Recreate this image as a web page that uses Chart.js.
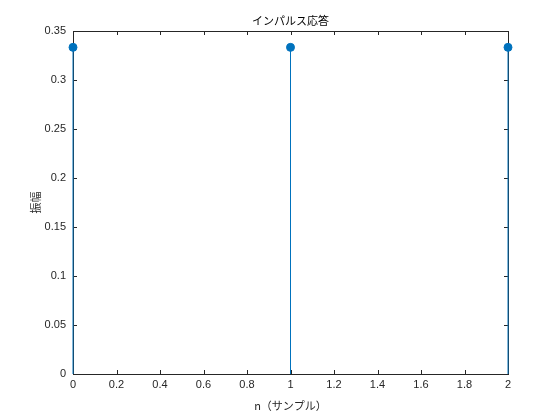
<!DOCTYPE html>
<html>
<head>
<meta charset="utf-8">
<script src="https://cdn.jsdelivr.net/npm/chart.js@4/dist/chart.umd.min.js"></script>
<style>
  html, body { margin: 0; padding: 0; background: #fff; }
  #wrap { width: 560px; height: 420px; }
</style>
</head>
<body>
<div id="wrap"><canvas id="stemChart"></canvas></div>
<script>
// impulse response samples
const samples = [0, 1, 2];
const amplitude = [0.3333, 0.3333, 0.3333];
const xTicks = [0, 0.2, 0.4, 0.6, 0.8, 1, 1.2, 1.4, 1.6, 1.8, 2];
const yTicks = [0, 0.05, 0.1, 0.15, 0.2, 0.25, 0.3, 0.35];

const titleText = 'インパルス応答';
const xLabel = 'n（サンプル）';
const yLabel = '振幅';

const blue = '#0072BD';
const axisColor = '#262626';
const jpFont = '"Noto Sans CJK JP", "Noto Sans", sans-serif';

// one line dataset per stem, from 0 up to the value
const stemSets = samples.map((n, i) => ({
    type: 'line',
    data: [{ x: n, y: 0 }, { x: n, y: amplitude[i] }],
    borderColor: blue,
    borderWidth: 1,
    pointRadius: 0,
    fill: false,
    clip: false
}));

const markerSet = {
    type: 'scatter',
    data: samples.map((n, i) => ({ x: n, y: amplitude[i] })),
    backgroundColor: blue,
    borderColor: blue,
    pointRadius: 4,
    pointHoverRadius: 4,
    clip: false
};

const fmt = v => String(+Number(v).toFixed(2));

const boxPlugin = {
    id: 'matlabBox',
    beforeDatasetsDraw(chart) {
        const { ctx, chartArea: a, scales } = chart;
        ctx.save();
        ctx.strokeStyle = axisColor;
        ctx.lineWidth = 1;
        ctx.strokeRect(Math.round(a.left) + 0.5, Math.round(a.top) + 0.5,
                       Math.round(a.right - a.left), Math.round(a.bottom - a.top));
        // inward ticks
        const tl = 4;
        ctx.beginPath();
        xTicks.forEach(t => {
            const px = Math.round(scales.x.getPixelForValue(t)) + 0.5;
            ctx.moveTo(px, a.bottom); ctx.lineTo(px, a.bottom - tl);
            ctx.moveTo(px, a.top); ctx.lineTo(px, a.top + tl);
        });
        yTicks.forEach(t => {
            const py = Math.round(scales.y.getPixelForValue(t)) + 0.5;
            ctx.moveTo(a.left, py); ctx.lineTo(a.left + tl, py);
            ctx.moveTo(a.right, py); ctx.lineTo(a.right - tl, py);
        });
        ctx.stroke();
        ctx.restore();
    },
    afterDraw(chart) {
        const { ctx, chartArea: a } = chart;
        ctx.save();
        // title + axis labels
        ctx.fillStyle = '#000';
        ctx.textAlign = 'center';
        ctx.textBaseline = 'alphabetic';
        ctx.font = '11px ' + jpFont;
        const cx = (a.left + a.right) / 2;
        ctx.fillText(titleText, cx, a.top - 6);
        ctx.fillStyle = axisColor;
        ctx.font = '11px ' + jpFont;
        ctx.fillText(xLabel, cx, a.bottom + 36);
        ctx.translate(40, (a.top + a.bottom) / 2);
        ctx.rotate(-Math.PI / 2);
        ctx.fillText(yLabel, 0, 0);
        ctx.restore();
    }
};

new Chart(document.getElementById('stemChart'), {
    data: { datasets: [...stemSets, markerSet] },
    options: {
        responsive: true,
        maintainAspectRatio: false,
        animation: false,
        layout: { padding: { top: 31, right: 52, left: 0, bottom: 0 } },
        plugins: { legend: { display: false }, tooltip: { enabled: false }, title: { display: false } },
        scales: {
            x: {
                type: 'linear',
                min: 0, max: 2,
                afterBuildTicks: s => { s.ticks = xTicks.map(v => ({ value: v })); },
                afterFit: s => { s.height = 46; },
                grid: { display: false, drawTicks: false },
                border: { display: false },
                ticks: { color: axisColor, padding: 4, maxRotation: 0, autoSkip: false,
                         font: { family: 'Liberation Sans, Arial, sans-serif', size: 11 }, callback: fmt }
            },
            y: {
                type: 'linear',
                min: 0, max: 0.35,
                afterBuildTicks: s => { s.ticks = yTicks.map(v => ({ value: v })); },
                afterFit: s => { s.width = 73; },
                grid: { display: false, drawTicks: false },
                border: { display: false },
                ticks: { color: axisColor, padding: 7, autoSkip: false,
                         font: { family: 'Liberation Sans, Arial, sans-serif', size: 11 }, callback: fmt }
            }
        }
    },
    plugins: [boxPlugin]
});
</script>
</body>
</html>
